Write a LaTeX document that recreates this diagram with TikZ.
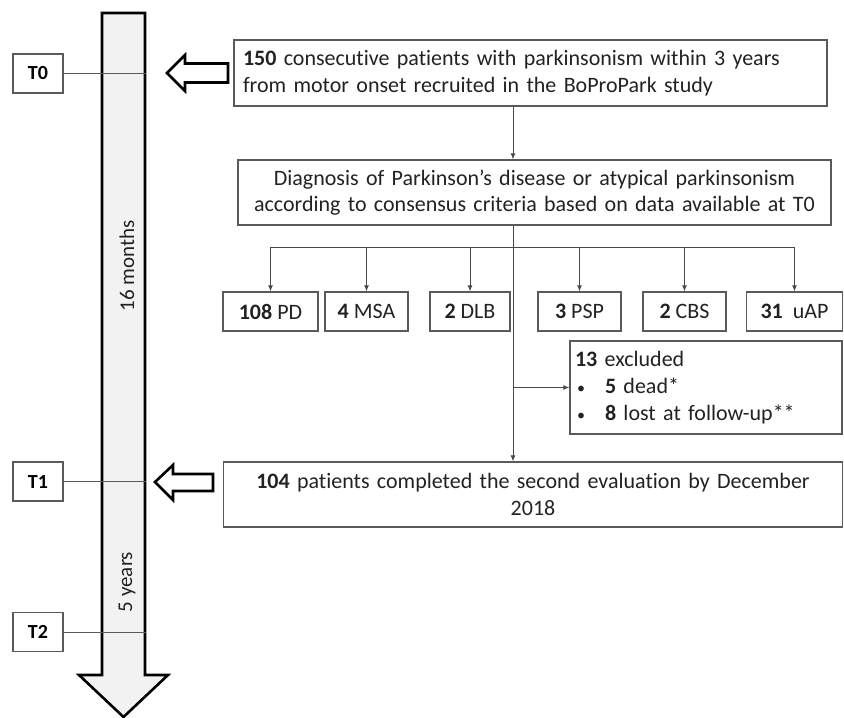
\documentclass[tikz,border=0pt]{standalone}
\usepackage{fontspec}
\setmainfont[Ligatures=NoCommon]{Carlito}
\usetikzlibrary{arrows.meta}
\definecolor{boxgray}{HTML}{5A5A5A}
\definecolor{txt}{HTML}{222222}
\definecolor{shaft}{HTML}{F2F2F2}
\begin{document}
\begin{tikzpicture}[x=1pt,y=-1pt,
  box/.style={draw=boxgray, line width=1.3pt, inner xsep=0pt, inner ysep=0pt, text=txt,
    font=\fontsize{22}{26.5}\selectfont, align=center},
  catbox/.style={box, minimum height=39pt},
  tbox/.style={draw=boxgray, line width=1.1pt, minimum width=50pt, minimum height=39pt, inner sep=0pt,
    font=\fontsize{20}{24}\selectfont\bfseries, text=black},
  conn/.style={draw=boxgray!80!black, line width=0.9pt},
  arr/.style={conn, -{Latex[length=6pt,width=5pt]}},
  hollow/.style={draw=black, line width=2.6pt, fill=white, line join=miter},
  tick/.style={draw=boxgray, line width=1pt}]
\useasboundingbox (0,0) rectangle (844,718);

% timeline arrow
\draw[line width=2.6pt, fill=shaft, line join=miter]
  (102,13) -- (145,13) -- (145,675) -- (168,675) -- (123.5,717) -- (79,675) -- (102,675) -- cycle;
\node[rotate=90, text=txt, font=\fontsize{21}{24}\selectfont] (m16) at (127,266) {16 months};
\node[rotate=90, text=txt, font=\fontsize{21}{24}\selectfont] (y5) at (127,582) {5 years};
\coordinate (shaftR) at (146,0);
\coordinate (spine) at (513,0);
\coordinate (br) at (513,247);

% time labels
\node[tbox] (T0) at (38,73.5) {T0};
\node[tbox] (T1) at (38,481.5) {T1};
\node[tbox] (T2) at (38,632) {T2};
\draw[tick] (T0.east) -- (T0.east -| shaftR);
\draw[tick] (T1.east) -- (T1.east -| shaftR);
\draw[tick] (T2.east) -- (T2.east -| shaftR);

% hollow arrows
\draw[hollow] (167,73) -- (185,55) -- (185,63.5) -- (228,63.5) -- (228,82.5) -- (185,82.5) -- (185,91) -- cycle;
\draw[hollow] (155,482) -- (173,465) -- (173,474) -- (213,474) -- (213,491) -- (173,491) -- (173,500) -- cycle;

% main boxes
\node[box, minimum width=593pt, minimum height=66pt, text width=575pt, align=left] (top) at (530.5,73)
  {\textbf{150} consecutive patients with parkinsonism within 3 years\\from motor onset recruited in the BoProPark study};
\node[box, minimum width=593pt, minimum height=65pt, text width=585pt] (diag) at (534.5,192.5)
  {Diagnosis of Parkinson’s disease or atypical parkinsonism\\according to consensus criteria based on data available at T0};

\node[catbox, minimum width=95pt] (PD) at (270.5,311.5) {\textbf{108} PD};
\node[catbox, minimum width=83pt] (MSA) at (366.5,311.5) {\textbf{4} MSA};
\node[catbox, minimum width=80pt] (DLB) at (470,311.5) {\textbf{2} DLB};
\node[catbox, minimum width=83pt] (PSP) at (579.5,311.5) {\textbf{3} PSP};
\node[catbox, minimum width=83pt] (CBS) at (684.5,311.5) {\textbf{2} CBS};
\node[catbox, minimum width=96pt] (uAP) at (794.5,311.5) {\textbf{31}\ \ uAP};

\node[box, minimum width=272pt, minimum height=93pt, text width=262pt, align=left,
  font=\fontsize{22}{27}\selectfont] (excl) at (706,387.5)
  {\textbf{13} excluded\\
   \hspace*{2pt}\makebox[28pt][l]{\fontsize{16}{16}\selectfont•}\textbf{5} dead*\\
   \hspace*{2pt}\makebox[28pt][l]{\fontsize{16}{16}\selectfont•}\textbf{8} lost at follow-up**};

\node[box, minimum width=619pt, minimum height=65pt, text width=600pt] (T1box) at (533,494.5)
  {\textbf{104} patients completed the second evaluation by December\\2018};

% connectors
\draw[arr] (top.south -| spine) -- (diag.north -| spine);
\draw[arr] (diag.south -| spine) -- (T1box.north -| spine);
\draw[conn] (PD.north |- br) -- (uAP.north |- br);
\foreach \n in {PD,MSA,DLB,PSP,CBS,uAP}
  \draw[arr] (\n.north |- br) -- (\n.north);
\draw[arr] (spine |- excl.west) -- (excl.west);
\end{tikzpicture}
\end{document}
